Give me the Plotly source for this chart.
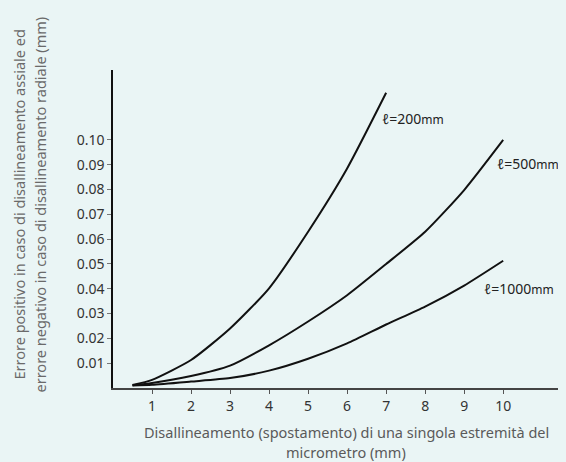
import plotly.graph_objects as go

# Data
x_vals = [0.5, 1, 2, 3, 4, 5, 6, 7, 8, 9, 10]
err_200 = [0.0012, 0.0033, 0.0113, 0.0240, 0.0402, 0.0630, 0.0885, 0.1190]
err_500 = [0.0011, 0.0020, 0.0048, 0.0090, 0.0172, 0.0268, 0.0374, 0.0500, 0.0630, 0.0798, 0.1000]
err_1000 = [0.0010, 0.0013, 0.0026, 0.0040, 0.0070, 0.0118, 0.0180, 0.0256, 0.0328, 0.0413, 0.0513]
series_names = ["ℓ=200mm", "ℓ=500mm", "ℓ=1000mm"]
label_texts = ["200", "500", "1000"]
label_x = [6.84, 9.78, 9.45]
label_y = [0.1085, 0.0907, 0.0403]
y_ticks = [0.01, 0.02, 0.03, 0.04, 0.05, 0.06, 0.07, 0.08, 0.09, 0.10]
x_ticks = [1, 2, 3, 4, 5, 6, 7, 8, 9, 10]
y_title_lines = ["Errore positivo in caso di disallineamento assiale ed",
                 "errore negativo in caso di disallineamento radiale (mm)"]
x_title_lines = ["Disallineamento (spostamento) di una singola estremità del",
                 "micrometro (mm)"]

BG = "#EAF5F5"
FONT = "Noto Sans"

# The page body has an 8px default margin; the figure is sized to compensate.
OFF = 8
W, H = 566 - OFF, 462 - OFF
L, T, B = 113 - OFF, 70 - OFF, 74
PW, PH = W - L, H - T - B


def px_to_paper_x(px):
    return (px - OFF - L) / PW


def py_to_paper_y(py):
    return (H - B - (py - OFF)) / PH


fig = go.Figure()
for name, ys in zip(series_names, [err_200, err_500, err_1000]):
    fig.add_trace(go.Scatter(
        x=x_vals[:len(ys)], y=ys, mode="lines", name=name,
        line=dict(color="#111111", width=2, shape="spline", smoothing=0.6),
        showlegend=False, hoverinfo="skip"))

for t, lx, ly in zip(label_texts, label_x, label_y):
    fig.add_annotation(
        x=lx, y=ly, xref="x", yref="y", xanchor="left", yanchor="middle",
        text="<i>ℓ</i>=" + t + "<span style='font-size:12px'>mm</span>",
        showarrow=False, font=dict(family=FONT, size=14, color="#222222"))

# y-axis title (two rotated lines)
for line, px in zip(y_title_lines, [18.5, 39.5]):
    fig.add_annotation(
        x=px_to_paper_x(px), y=py_to_paper_y(205), xref="paper", yref="paper",
        xanchor="center", yanchor="middle", textangle=-90, text=line,
        showarrow=False, font=dict(family=FONT, size=14.5, color="#6a6a6a"))

# x-axis title (two lines)
for line, py in zip(x_title_lines, [432, 452]):
    fig.add_annotation(
        x=px_to_paper_x(346), y=py_to_paper_y(py), xref="paper", yref="paper",
        xanchor="center", yanchor="middle", text=line,
        showarrow=False, font=dict(family=FONT, size=14.5, color="#5a5a5a"))

fig.update_layout(
    width=W, height=H,
    margin=dict(l=L, r=0, t=T, b=B, pad=0),
    paper_bgcolor=BG, plot_bgcolor=BG,
    font=dict(family=FONT, size=14, color="#333333"),
)
fig.update_xaxes(
    range=[0, 11.61], tickvals=x_ticks, ticktext=[str(v) for v in x_ticks],
    ticks="outside", ticklen=4, tickcolor="#555555", tickwidth=1,
    showline=True, linecolor="#444444", linewidth=1.5,
    showgrid=False, zeroline=False, fixedrange=True,
    tickfont=dict(family=FONT, size=14, color="#333333"))
fig.update_yaxes(
    range=[0, 0.1282], tickvals=y_ticks, ticktext=["%.2f" % v for v in y_ticks],
    ticks="outside", ticklen=4, tickcolor="#777777", tickwidth=1,
    showline=True, linecolor="#111111", linewidth=1.5,
    showgrid=False, zeroline=False, fixedrange=True,
    tickfont=dict(family=FONT, size=14, color="#333333"))

fig.write_html("out.html",
               post_script="document.body.style.background='" + BG + "';")
